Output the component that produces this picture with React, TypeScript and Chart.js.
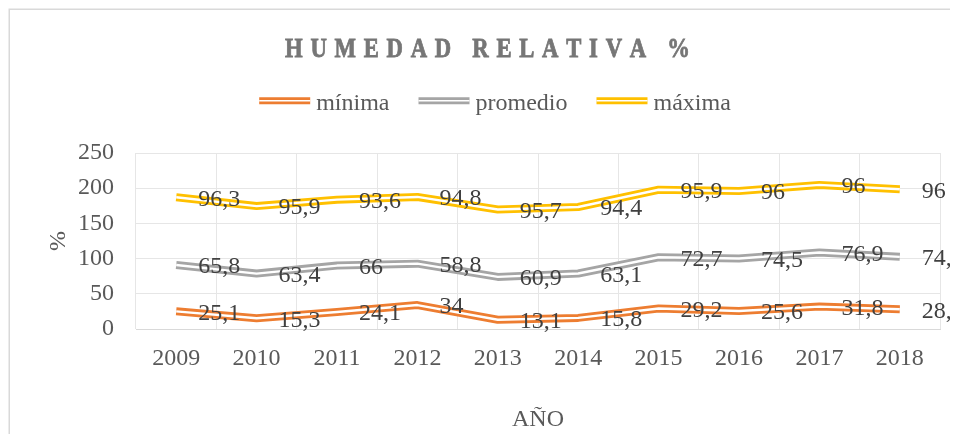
import React, { useEffect, useRef } from "react";
import { Chart, registerables } from "chart.js";

Chart.register(...registerables);

const years = ["2009", "2010", "2011", "2012", "2013", "2014", "2015", "2016", "2017", "2018"];
const minima = [25.1, 15.3, 24.1, 34, 13.1, 15.8, 29.2, 25.6, 31.8, 28.1];
const promedio = [65.8, 63.4, 66, 58.8, 60.9, 63.1, 72.7, 74.5, 76.9, 74.4];
const maxima = [96.3, 95.9, 93.6, 94.8, 95.7, 94.4, 95.9, 96, 96, 96];
const seriesNames = ["mínima", "promedio", "máxima"];
const seriesColors = ["#ED7D31", "#A5A5A5", "#FFC000"];
const yMin = 0;
const yMax = 250;
const yStep = 50;
const chartTitle = "HUMEDAD RELATIVA %";
const xTitle = "AÑO";
const yTitle = "%";

const FAMILY = '"Liberation Serif", "Times New Roman", serif';
const TEXT = "#595959";
const LABEL = "#404040";

const fmt = (v: number) => String(v).replace(".", ",");

const doubleLinePlugin = {
  id: "doubleLine",
  afterDatasetDraw(chart: any, args: any) {
    const meta = args.meta;
    const pts = meta.data;
    if (!pts || !pts.length) return;
    const ctx = chart.ctx;
    ctx.save();
    ctx.strokeStyle = "#ffffff";
    ctx.lineWidth = 2.4;
    ctx.lineJoin = "round";
    ctx.lineCap = "butt";
    ctx.beginPath();
    pts.forEach((p: any, i: number) => {
      if (i === 0) ctx.moveTo(p.x, p.y);
      else ctx.lineTo(p.x, p.y);
    });
    ctx.stroke();
    ctx.restore();
  },
};

const labelsPlugin = {
  id: "pointLabels",
  afterDatasetsDraw(chart: any) {
    const ctx = chart.ctx;
    ctx.save();
    ctx.font = `24px ${FAMILY}`;
    ctx.fillStyle = LABEL;
    ctx.textAlign = "left";
    ctx.textBaseline = "middle";
    chart.data.datasets.forEach((ds: any, di: number) => {
      const meta = chart.getDatasetMeta(di);
      meta.data.forEach((p: any, i: number) => {
        ctx.fillText(fmt(ds.data[i]), p.x + 22, p.y + 2);
      });
    });
    ctx.restore();
  },
};

const decorPlugin = {
  id: "decor",
  afterDraw(chart: any) {
    const ctx = chart.ctx;
    ctx.save();
    // frame (left and top edges visible)
    ctx.strokeStyle = "#d9d9d9";
    ctx.lineWidth = 1.5;
    ctx.beginPath();
    ctx.moveTo(1.25, chart.height + 5);
    ctx.lineTo(1.25, 1.25);
    ctx.lineTo(chart.width + 5, 1.25);
    ctx.stroke();

    // title: bold, slightly condensed, letter-spaced
    ctx.font = `bold 27px ${FAMILY}`;
    ctx.fillStyle = "#767676";
    ctx.textBaseline = "alphabetic";
    ctx.textAlign = "left";
    const sx = 0.84;
    const chars = Array.from(chartTitle);
    const widths = chars.map((c) => ctx.measureText(c).width * sx);
    const natural = widths.reduce((a, b) => a + b, 0);
    const targetW = 405;
    const spacing = (targetW - natural) / (chars.length - 1);
    let x = 479.5 - targetW / 2;
    chars.forEach((c, i) => {
      ctx.save();
      ctx.translate(x, 49);
      ctx.scale(sx, 1);
      ctx.fillText(c, 0, 0);
      ctx.strokeStyle = "#767676";
      ctx.lineWidth = 0.8;
      ctx.strokeText(c, 0, 0);
      ctx.restore();
      x += widths[i] + spacing;
    });

    // legend
    ctx.font = `24px ${FAMILY}`;
    const lineLen = 51;
    const gap = 6;
    const itemGap = 29;
    const tws = seriesNames.map((n) => ctx.measureText(n).width);
    const total = tws.reduce((a, b) => a + b, 0) + seriesNames.length * (lineLen + gap) + itemGap * (seriesNames.length - 1);
    let lx = 487 - total / 2;
    const ly = 92.7;
    seriesNames.forEach((name, i) => {
      ctx.lineCap = "butt";
      ctx.strokeStyle = seriesColors[i];
      ctx.lineWidth = 7;
      ctx.beginPath();
      ctx.moveTo(lx, ly);
      ctx.lineTo(lx + lineLen, ly);
      ctx.stroke();
      ctx.strokeStyle = "#ffffff";
      ctx.lineWidth = 1.6;
      ctx.beginPath();
      ctx.moveTo(lx, ly);
      ctx.lineTo(lx + lineLen, ly);
      ctx.stroke();
      ctx.fillStyle = TEXT;
      ctx.fillText(name, lx + lineLen + gap, 102);
      lx += lineLen + gap + tws[i] + itemGap;
    });
    ctx.restore();
  },
};

export default function App() {
  const ref = useRef<HTMLCanvasElement | null>(null);

  useEffect(() => {
    if (!ref.current) return;
    const font = { family: FAMILY, size: 24 };
    const series = [minima, promedio, maxima];
    const chart = new Chart(ref.current, {
      type: "line",
      data: {
        labels: years,
        datasets: series.map((d, i) => ({
          label: seriesNames[i],
          data: d,
          borderColor: seriesColors[i],
          backgroundColor: seriesColors[i],
          borderWidth: 8,
          fill: false,
          tension: 0,
          pointRadius: 0,
          borderCapStyle: "butt",
          borderJoinStyle: "round",
        })),
      },
      options: {
        responsive: false,
        animation: false,
        devicePixelRatio: 1,
        layout: { padding: { top: 145, right: 18, left: 0, bottom: 0 } },
        plugins: {
          legend: { display: false },
          title: { display: false },
          tooltip: { enabled: false },
        },
        scales: {
          x: {
            type: "category",
            offset: true,
            grid: { offset: true, color: "#e6e6e6", drawTicks: false, lineWidth: 1 },
            border: { display: true, color: "#d9d9d9" },
            ticks: { font, color: TEXT, padding: 15, maxRotation: 0, autoSkip: false },
            title: { display: true, text: xTitle, font, color: TEXT, padding: 0 },
            afterFit: (s: any) => {
              s.height = 105;
            },
          },
          y: {
            stacked: true,
            min: yMin,
            max: yMax,
            ticks: { stepSize: yStep, font, color: TEXT, padding: 22 },
            grid: { color: "#e6e6e6", drawTicks: false, lineWidth: 1 },
            border: { display: false },
            title: { display: true, text: yTitle, font, color: TEXT, padding: { top: 36, bottom: 0 } },
            afterFit: (s: any) => {
              s.width = 128;
            },
          },
        },
      } as any,
      plugins: [doubleLinePlugin, labelsPlugin, decorPlugin],
    });
    return () => chart.destroy();
  }, []);

  return (
    <canvas
      ref={ref}
      width={950}
      height={426}
      style={{ display: "block", width: 950, height: 426 }}
    />
  );
}
